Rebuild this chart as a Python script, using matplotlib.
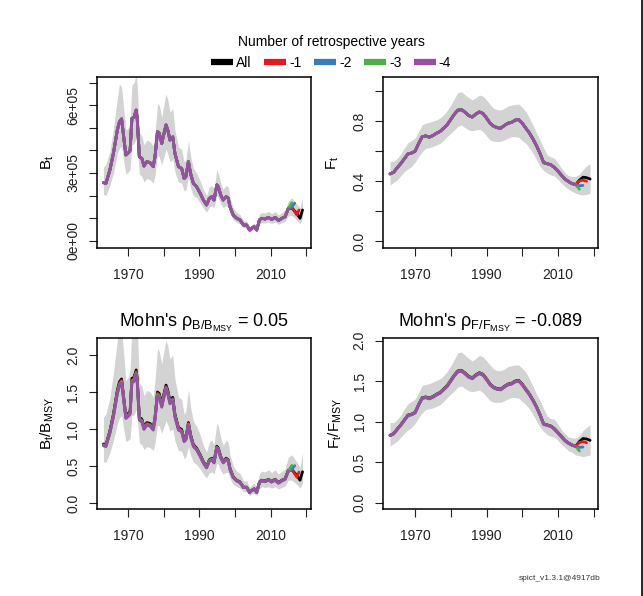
import matplotlib
matplotlib.use('Agg')
import matplotlib.pyplot as plt
from matplotlib.lines import Line2D

plt.rcParams['font.family'] = ['Liberation Sans', 'DejaVu Sans']
plt.rcParams['mathtext.fontset'] = 'custom'
plt.rcParams['mathtext.rm'] = 'Liberation Sans'
plt.rcParams['mathtext.it'] = 'Liberation Sans:italic'
plt.rcParams['mathtext.bf'] = 'Liberation Sans:bold'

# retrospective runs (peel 0..4)
run_labels = ['All', '-1', '-2', '-3', '-4']
run_colors = ['black', '#E41A1C', '#377EB8', '#4DAF4A', '#984EA3']

# biomass, common history of all runs (units of 1e5)
b_years = [1963.0, 1963.7, 1964.8, 1965.8, 1966.9, 1967.5, 1968.1, 1968.8, 1969.3, 1970.0,
           1970.5, 1971.0, 1971.6, 1972.2, 1972.5, 1973.1, 1973.8, 1974.4, 1975.2, 1976.1,
           1977.0, 1977.5, 1978.2, 1978.7, 1979.4, 1979.8, 1980.6, 1981.1, 1981.7, 1982.5,
           1983.1, 1984.1, 1985.0, 1985.7, 1986.2, 1986.9, 1987.5, 1988.3, 1989.2, 1990.2,
           1991.1, 1992.0, 1992.8, 1993.5, 1994.1, 1994.9, 1995.3, 1996.0, 1996.7, 1997.5,
           1998.1, 1998.6, 1999.5, 2000.5, 2001.4, 2002.4, 2003.3, 2004.1, 2004.7, 2005.4,
           2006.1, 2006.9, 2007.5, 2008.5, 2009.4, 2010.3, 2011.3, 2012.2, 2013.2, 2014.1,
           2015.0]
b_est = [2.57, 2.54, 3.13, 3.87, 4.90, 5.27, 5.40, 4.46, 3.80, 3.90,
         4.00, 5.42, 5.47, 5.79, 5.40, 3.72, 3.65, 3.31, 3.50, 3.46,
         3.28, 3.72, 4.83, 4.76, 4.31, 4.60, 5.13, 4.90, 4.46, 4.60,
         3.87, 3.28, 3.20, 2.76, 2.84, 3.50, 2.98, 2.54, 2.39, 2.10,
         1.80, 1.58, 1.88, 1.95, 1.80, 2.47, 2.39, 2.02, 1.80, 1.95,
         1.88, 1.50, 1.14, 0.99, 0.92, 0.69, 0.69, 0.47, 0.55, 0.62,
         0.47, 0.92, 0.99, 0.96, 1.03, 0.94, 1.03, 0.89, 0.99, 1.06,
         1.42]
# end of each run after the shared history
b_tail_years = [[2016.0, 2017.4, 2018.3, 2019.0],
                [2016.0, 2017.4, 2018.0],
                [2016.0, 2016.8],
                [2015.6, 2016.0],
                []]
b_tail = [[1.45, 1.20, 0.99, 1.36],
          [1.48, 1.14, 1.36],
          [1.50, 1.66],
          [1.58, 1.68],
          []]
# 95% band of the full run (history + tail of 'All')
b_lo = [2.05, 2.00, 2.45, 3.00, 3.85, 4.10, 4.20, 3.45, 2.95, 3.05,
        3.15, 4.25, 4.30, 4.50, 4.20, 2.95, 2.85, 2.60, 2.75, 2.70,
        2.55, 2.90, 3.80, 3.70, 3.35, 3.60, 4.05, 3.85, 3.50, 3.60,
        3.05, 2.60, 2.55, 2.20, 2.25, 2.80, 2.35, 2.00, 1.90, 1.68,
        1.45, 1.27, 1.50, 1.55, 1.45, 1.98, 1.90, 1.62, 1.45, 1.56,
        1.50, 1.20, 0.92, 0.80, 0.74, 0.56, 0.56, 0.38, 0.44, 0.50,
        0.38, 0.74, 0.80, 0.78, 0.83, 0.76, 0.83, 0.72, 0.80, 0.86,
        1.10, 1.12, 0.92, 0.75, 1.02]
b_hi = [3.25, 3.40, 3.95, 4.95, 6.30, 6.95, 6.80, 5.70, 4.90, 5.00,
        5.30, 6.90, 7.00, 7.40, 6.90, 4.80, 4.65, 4.25, 4.45, 4.40,
        4.20, 4.75, 6.10, 6.00, 5.45, 5.85, 6.50, 6.25, 5.70, 5.85,
        4.90, 4.15, 4.05, 3.50, 3.60, 4.45, 3.75, 3.20, 3.00, 2.65,
        2.28, 2.00, 2.38, 2.45, 2.28, 3.15, 3.00, 2.55, 2.28, 2.45,
        2.38, 1.90, 1.45, 1.25, 1.16, 0.87, 0.87, 0.60, 0.70, 0.78,
        0.60, 1.17, 1.25, 1.22, 1.30, 1.19, 1.30, 1.13, 1.26, 1.35,
        1.75, 1.90, 1.62, 1.45, 1.90]
bmsy = [3.22, 3.26, 3.29, 3.31, 3.33]

# relative biomass band
bb_lo = [0.56, 0.55, 0.68, 0.84, 1.07, 1.15, 1.18, 0.97, 0.83, 0.85,
         0.87, 1.18, 1.19, 1.26, 1.18, 0.81, 0.79, 0.72, 0.76, 0.75,
         0.71, 0.81, 1.05, 1.04, 0.94, 1.00, 1.11, 1.06, 0.97, 1.00,
         0.84, 0.71, 0.70, 0.60, 0.62, 0.76, 0.65, 0.55, 0.52, 0.46,
         0.39, 0.34, 0.41, 0.42, 0.39, 0.54, 0.52, 0.44, 0.39, 0.42,
         0.41, 0.33, 0.25, 0.22, 0.20, 0.15, 0.15, 0.10, 0.12, 0.13,
         0.10, 0.20, 0.22, 0.21, 0.22, 0.20, 0.22, 0.19, 0.21, 0.23,
         0.31, 0.31, 0.25, 0.20, 0.27]
bb_hi = [1.16, 1.20, 1.42, 1.75, 2.20, 2.40, 2.35, 1.95, 1.65, 1.70,
         1.80, 2.40, 2.45, 2.55, 2.40, 1.62, 1.58, 1.45, 1.52, 1.50,
         1.43, 1.65, 2.10, 2.05, 1.88, 2.00, 2.20, 2.12, 1.95, 2.00,
         1.68, 1.43, 1.40, 1.20, 1.24, 1.53, 1.30, 1.10, 1.04, 0.92,
         0.78, 0.69, 0.82, 0.85, 0.79, 1.08, 1.04, 0.88, 0.78, 0.85,
         0.82, 0.65, 0.50, 0.43, 0.40, 0.30, 0.30, 0.21, 0.24, 0.27,
         0.21, 0.40, 0.43, 0.42, 0.45, 0.41, 0.45, 0.39, 0.43, 0.46,
         0.62, 0.65, 0.55, 0.48, 0.68]

# fishing mortality, common history
f_years = list(range(1963, 2016))
f_est = [0.447, 0.458, 0.488, 0.516, 0.548, 0.580, 0.586, 0.598, 0.650, 0.695,
         0.700, 0.692, 0.703, 0.718, 0.730, 0.752, 0.775, 0.810, 0.845, 0.872,
         0.876, 0.858, 0.836, 0.826, 0.846, 0.860, 0.850, 0.820, 0.785, 0.765,
         0.755, 0.752, 0.770, 0.785, 0.790, 0.805, 0.810, 0.785, 0.752, 0.720,
         0.680, 0.635, 0.582, 0.522, 0.515, 0.508, 0.490, 0.465, 0.438, 0.412,
         0.395, 0.382, 0.375]
f_tail_years = [[2016, 2017, 2018, 2019],
                [2016, 2017, 2018],
                [2016, 2017],
                [2016],
                []]
f_tail = [[0.405, 0.425, 0.422, 0.413],
          [0.400, 0.405, 0.398],
          [0.368, 0.370],
          [0.345],
          []]
f_band_years = list(range(1963, 2020))
f_lo = [0.373, 0.390, 0.407, 0.435, 0.462, 0.480, 0.496, 0.525, 0.562, 0.595,
        0.618, 0.622, 0.629, 0.640, 0.651, 0.672, 0.696, 0.718, 0.740, 0.765,
        0.773, 0.755, 0.740, 0.735, 0.740, 0.745, 0.729, 0.700, 0.673, 0.665,
        0.662, 0.665, 0.673, 0.685, 0.696, 0.695, 0.691, 0.670, 0.651, 0.620,
        0.584, 0.540, 0.496, 0.470, 0.451, 0.440, 0.433, 0.410, 0.384, 0.362,
        0.344, 0.330, 0.318, 0.310, 0.307, 0.310, 0.318]
f_hi = [0.530, 0.530, 0.550, 0.580, 0.620, 0.655, 0.670, 0.685, 0.730, 0.775,
        0.785, 0.790, 0.800, 0.807, 0.820, 0.840, 0.870, 0.905, 0.950, 0.990,
        0.995, 0.973, 0.955, 0.940, 0.955, 0.973, 0.965, 0.940, 0.910, 0.884,
        0.875, 0.873, 0.885, 0.900, 0.905, 0.910, 0.913, 0.890, 0.862, 0.820,
        0.773, 0.720, 0.673, 0.620, 0.573, 0.560, 0.551, 0.520, 0.484, 0.455,
        0.435, 0.430, 0.430, 0.445, 0.475, 0.500, 0.515]
fmsy = [0.536, 0.537, 0.538, 0.539, 0.540]

# relative fishing mortality band
ff_lo = [0.70, 0.73, 0.76, 0.81, 0.86, 0.90, 0.93, 0.98, 1.05, 1.11,
         1.15, 1.16, 1.17, 1.19, 1.21, 1.25, 1.30, 1.34, 1.38, 1.43,
         1.44, 1.41, 1.38, 1.37, 1.38, 1.39, 1.36, 1.31, 1.26, 1.24,
         1.24, 1.24, 1.26, 1.28, 1.30, 1.30, 1.29, 1.25, 1.21, 1.16,
         1.09, 1.01, 0.93, 0.88, 0.84, 0.82, 0.81, 0.77, 0.72, 0.68,
         0.64, 0.62, 0.59, 0.58, 0.57, 0.58, 0.59]
ff_hi = [0.99, 0.99, 1.03, 1.08, 1.16, 1.22, 1.25, 1.28, 1.36, 1.45,
         1.46, 1.47, 1.49, 1.51, 1.53, 1.57, 1.62, 1.69, 1.77, 1.85,
         1.86, 1.82, 1.78, 1.75, 1.78, 1.82, 1.80, 1.75, 1.70, 1.65,
         1.63, 1.63, 1.65, 1.68, 1.69, 1.70, 1.70, 1.66, 1.61, 1.53,
         1.44, 1.34, 1.26, 1.16, 1.07, 1.04, 1.03, 0.97, 0.90, 0.85,
         0.81, 0.80, 0.80, 0.83, 0.89, 0.93, 0.96]

rho_b = 0.05
rho_f = -0.089

band_col = '#D3D3D3'
lw = 2.0

fig = plt.figure(figsize=(6.43, 5.96), dpi=100)
ax_b = fig.add_axes([0.1504, 0.5834, 0.3328, 0.2879])
ax_f = fig.add_axes([0.5961, 0.5834, 0.3344, 0.2879])
ax_bb = fig.add_axes([0.1504, 0.1455, 0.3328, 0.2874])
ax_ff = fig.add_axes([0.5961, 0.1455, 0.3344, 0.2874])


def run_series(hist_x, hist_y, tail_x, tail_y, i):
    return list(hist_x) + tail_x[i], list(hist_y) + tail_y[i]


b_band_years = b_years + b_tail_years[0]

# B_t
ax_b.fill_between(b_band_years, [v * 1e5 for v in b_lo], [v * 1e5 for v in b_hi],
                  color=band_col, lw=0)
for i in range(5):
    x, y = run_series(b_years, b_est, b_tail_years, b_tail, i)
    ax_b.plot(x, [v * 1e5 for v in y], color=run_colors[i], lw=lw,
              solid_joinstyle='round', solid_capstyle='round')

# B_t / B_MSY
ax_bb.fill_between(b_band_years, bb_lo, bb_hi, color=band_col, lw=0)
for i in range(5):
    x, y = run_series(b_years, b_est, b_tail_years, b_tail, i)
    ax_bb.plot(x, [v / bmsy[i] for v in y], color=run_colors[i], lw=lw,
               solid_joinstyle='round', solid_capstyle='round')

# F_t
ax_f.fill_between(f_band_years, f_lo, f_hi, color=band_col, lw=0)
for i in range(5):
    x, y = run_series(f_years, f_est, f_tail_years, f_tail, i)
    ax_f.plot(x, y, color=run_colors[i], lw=lw,
              solid_joinstyle='round', solid_capstyle='round')

# F_t / F_MSY
ax_ff.fill_between(f_band_years, ff_lo, ff_hi, color=band_col, lw=0)
for i in range(5):
    x, y = run_series(f_years, f_est, f_tail_years, f_tail, i)
    ax_ff.plot(x, [v / fmsy[i] for v in y], color=run_colors[i], lw=lw,
               solid_joinstyle='round', solid_capstyle='round')

xt = [1970, 1980, 1990, 2000, 2010, 2020]
xl = ['1970', '', '1990', '', '2010', '']

for ax in (ax_b, ax_f, ax_bb, ax_ff):
    ax.set_xlim(1961.1, 2021.3)
    ax.set_xticks(xt)
    ax.set_xticklabels(xl)
    ax.tick_params(direction='out', length=6, width=0.8, labelsize=10,
                   colors='#222222')
    ax.tick_params(axis='x', pad=8)
    ax.tick_params(axis='y', pad=6)
    for s in ax.spines.values():
        s.set_linewidth(1.1)

ax_b.set_ylim(-34000, 727000)
ax_b.set_yticks([i * 1e5 for i in range(8)])
ax_b.set_yticklabels(['0e+00', '', '', '3e+05', '', '', '6e+05', ''],
                     rotation=90, va='center')

ax_f.set_ylim(-0.049, 1.095)
ax_f.set_yticks([0.0, 0.2, 0.4, 0.6, 0.8, 1.0])
ax_f.set_yticklabels(['0.0', '', '0.4', '', '0.8', ''], rotation=90, va='center')

ax_bb.set_ylim(-0.085, 2.23)
ax_bb.set_yticks([0.0, 0.5, 1.0, 1.5, 2.0])
ax_bb.set_yticklabels(['0.0', '0.5', '1.0', '1.5', '2.0'], rotation=90, va='center')

ax_ff.set_ylim(-0.08, 2.033)
ax_ff.set_yticks([0.0, 0.5, 1.0, 1.5, 2.0])
ax_ff.set_yticklabels(['0.0', '0.5', '1.0', '1.5', '2.0'], rotation=90, va='center')

ax_b.set_ylabel(r'$\mathregular{B_t}$', fontsize=11)
ax_f.set_ylabel(r'$\mathregular{F_t}$', fontsize=11)
ax_bb.set_ylabel(r'$\mathregular{B_t/B_{MSY}}$', fontsize=11)
ax_ff.set_ylabel(r'$\mathregular{F_t/F_{MSY}}$', fontsize=11)
ax_b.yaxis.set_label_coords(-0.19, 0.5)
ax_f.yaxis.set_label_coords(-0.195, 0.5)
ax_bb.yaxis.set_label_coords(-0.19, 0.5)
ax_ff.yaxis.set_label_coords(-0.185, 0.5)

ax_bb.set_title(r"Mohn's $\mathregular{\rho_{B/B_{MSY}}}$ = " + f'{rho_b}', fontsize=13, pad=8)
ax_ff.set_title(r"Mohn's $\mathregular{\rho_{F/F_{MSY}}}$ = " + f'{rho_f}', fontsize=13, pad=8)

handles = [Line2D([0], [0], color=c, lw=4.5, solid_capstyle='butt') for c in run_colors]
fig.legend(handles, run_labels, loc='upper center', bbox_to_anchor=(0.515, 0.957),
           ncol=5, frameon=False, fontsize=10, title='Number of retrospective years',
           title_fontsize=10, handlelength=1.6, handletextpad=0.2, columnspacing=0.9,
           borderpad=0.2, labelspacing=0.45)

fig.text(560 / 643, 1 - 578 / 596, 'spict_v1.3.1@4917db', fontsize=6,
         ha='center', va='center', color='#333333')
fig.add_artist(Line2D([0.9985, 0.9985], [0, 1], color='black', lw=1.2,
                      transform=fig.transFigure))

fig.savefig('out.png', dpi=100)
